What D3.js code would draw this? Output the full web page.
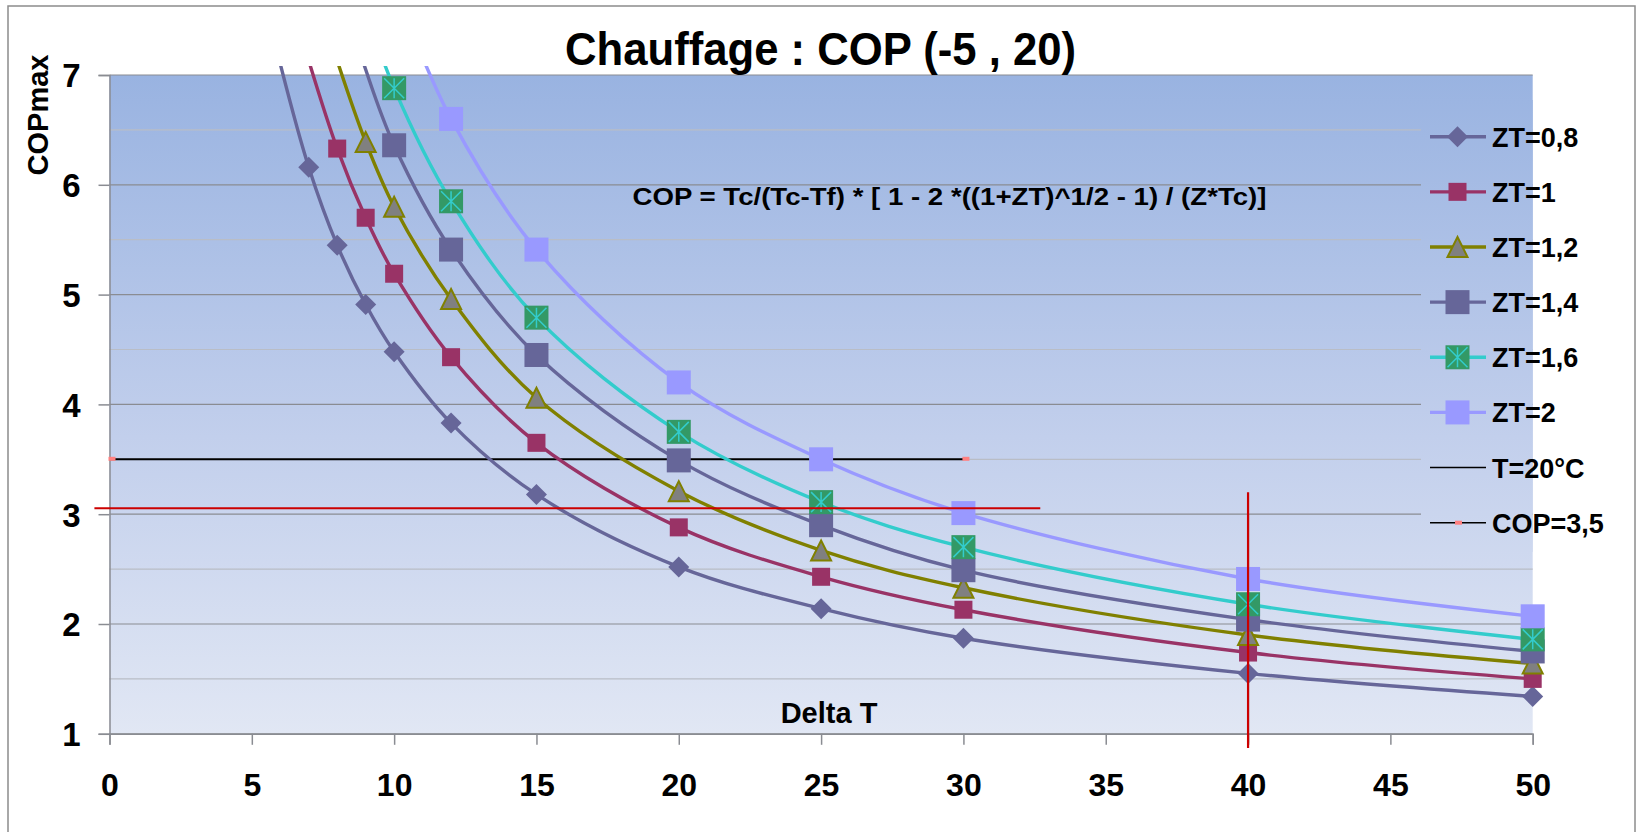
<!DOCTYPE html>
<html>
<head>
<meta charset="utf-8">
<script src="https://cdn.jsdelivr.net/npm/d3@7"></script>
<style>
  body { margin: 0; background: #fff; }
  text { font-family: "Liberation Sans", Arial, sans-serif; font-weight: bold; fill: #000; }
</style>
</head>
<body>
<svg id="chart"></svg>
<script>
// ---- data ----
const seriesNames = ["ZT=0,8", "ZT=1", "ZT=1,2", "ZT=1,4", "ZT=1,6", "ZT=2"];

const deltaT08 = [6, 7, 8, 9, 10, 12, 15, 20, 25, 30, 40, 50];
const cop08 = [7.1, 6.16, 5.45, 4.91, 4.48, 3.83, 3.18, 2.52, 2.14, 1.87, 1.55, 1.34];

const deltaT10 = [7, 8, 9, 10, 12, 15, 20, 25, 30, 40, 50];
const cop10 = [7.13, 6.33, 5.7, 5.19, 4.43, 3.65, 2.88, 2.43, 2.13, 1.74, 1.5];

const deltaT12 = [8, 9, 10, 12, 15, 20, 25, 30, 40, 50];
const cop12 = [7.13, 6.39, 5.8, 4.96, 4.06, 3.21, 2.67, 2.33, 1.9, 1.64];

const deltaT14 = [8, 9, 10, 12, 15, 20, 25, 30, 40, 50];
const cop14 = [7.9, 7.05, 6.36, 5.41, 4.45, 3.49, 2.9, 2.49, 2.04, 1.75];

const deltaT16 = [9, 10, 12, 15, 20, 25, 30, 40, 50];
const cop16 = [7.6, 6.88, 5.85, 4.79, 3.75, 3.11, 2.7, 2.18, 1.86];

const deltaT20 = [10, 12, 15, 20, 25, 30, 40, 50];
const cop20 = [7.8, 6.6, 5.41, 4.2, 3.5, 3.01, 2.41, 2.07];

// reference lines
const t20Name = "T=20°C";
const t20X = [40, 40];
const t20Y = [3, 0];
const cop35Name = "COP=3,5";
const cop35X = [0, 30];
const cop35Y = [3.5, 3.5];

// hand-drawn red lines
const redHX = [-0.53, 32.7];
const redHY = [3.054, 3.054];
const redVX = [40, 40];
const redVY = [3.2, 0.87];

const xTicks = [0, 5, 10, 15, 20, 25, 30, 35, 40, 45, 50];
const yTicks = [1, 2, 3, 4, 5, 6, 7];
const yMinorTicks = [1.5, 2.5, 3.5, 4.5, 5.5, 6.5];

const titleText = "Chauffage : COP (-5 , 20)";
const formulaText = "COP = Tc/(Tc-Tf) * [ 1 - 2 *((1+ZT)^1/2 - 1) / (Z*Tc)]";
const xAxisTitle = "Delta T";
const yAxisTitle = "COPmax";

// ---- styles ----
const styles = [
  { line: "#666699", marker: "diamond", size: 21, fill: "#666699" },
  { line: "#993366", marker: "square", size: 18, fill: "#993366" },
  { line: "#808000", marker: "triangle", size: 20, fill: "#808080", stroke: "#808000" },
  { line: "#666699", marker: "square", size: 24, fill: "#666699" },
  { line: "#33CCCC", marker: "star", size: 24, fill: "#339966", stroke: "#33CCCC" },
  { line: "#9999FF", marker: "square", size: 24, fill: "#9999FF" },
];

const seriesX = [deltaT08, deltaT10, deltaT12, deltaT14, deltaT16, deltaT20];
const seriesY = [cop08, cop10, cop12, cop14, cop16, cop20];
const series = seriesNames.map((name, i) => ({
  name,
  style: styles[i],
  points: seriesX[i].map((x, j) => ({ x, y: seriesY[i][j] })),
}));

const width = 1638,
  height = 832;
const margin = { left: 109.5, right: 1532.7, top: 75, bottom: 733.8 };

const svg = d3.select("#chart").attr("width", width).attr("height", height);

const x = d3.scaleLinear().domain([0, 50]).range([margin.left, margin.right]);
const y = d3.scaleLinear().domain([1, 7]).range([margin.bottom, margin.top]);

const defs = svg.append("defs");
const grad = defs
  .append("linearGradient")
  .attr("id", "bg")
  .attr("gradientUnits", "userSpaceOnUse")
  .attr("x1", 0)
  .attr("y1", margin.top)
  .attr("x2", 0)
  .attr("y2", margin.bottom);
grad.append("stop").attr("offset", "0%").attr("stop-color", "#99B3E1");
grad.append("stop").attr("offset", "55%").attr("stop-color", "#C2CFEC");
grad.append("stop").attr("offset", "100%").attr("stop-color", "#E1E7F4");

defs
  .append("clipPath")
  .attr("id", "clip")
  .append("rect")
  .attr("x", margin.left - 12)
  .attr("y", margin.top - 9)
  .attr("width", margin.right - margin.left + 24)
  .attr("height", margin.bottom - margin.top + 18);

// outer frame
svg
  .append("rect")
  .attr("x", 8)
  .attr("y", 6)
  .attr("width", 1627)
  .attr("height", 860)
  .attr("fill", "#fff")
  .attr("stroke", "#8c8c8c")
  .attr("stroke-width", 1.5);

// plot background
svg
  .append("rect")
  .attr("x", margin.left)
  .attr("y", margin.top)
  .attr("width", margin.right - margin.left)
  .attr("height", margin.bottom - margin.top)
  .attr("fill", "url(#bg)");

// gridlines
svg
  .append("g")
  .selectAll("line")
  .data(yMinorTicks)
  .join("line")
  .attr("x1", margin.left)
  .attr("x2", margin.right)
  .attr("y1", (d) => y(d))
  .attr("y2", (d) => y(d))
  .attr("stroke", "#B9BDC6")
  .attr("stroke-width", 1.2);
svg
  .append("g")
  .selectAll("line")
  .data(yTicks)
  .join("line")
  .attr("x1", margin.left)
  .attr("x2", margin.right)
  .attr("y1", (d) => y(d))
  .attr("y2", (d) => y(d))
  .attr("stroke", "#8A8C92")
  .attr("stroke-width", 1.2);

// legend background hides the gridlines behind it
svg
  .append("rect")
  .attr("x", 1421)
  .attr("y", 100)
  .attr("width", margin.right - 1421)
  .attr("height", 452)
  .attr("fill", "url(#bg)");

// axes
const yAxis = d3
  .axisLeft(y)
  .tickValues(yTicks)
  .tickSize(11)
  .tickPadding(18)
  .tickFormat(d3.format("d"));
const gy = svg.append("g").attr("transform", `translate(${margin.left},0)`).call(yAxis);
gy.select(".domain").attr("stroke", "#8A8C92").attr("stroke-width", 1.5);
gy.selectAll(".tick line").attr("stroke", "#8A8C92").attr("stroke-width", 1.5);
gy.selectAll(".tick text").attr("font-size", 33).attr("dy", "0.36em").attr("font-family", null);

const xAxis = d3
  .axisBottom(x)
  .tickValues(xTicks)
  .tickSize(11)
  .tickPadding(28)
  .tickFormat(d3.format("d"));
const gx = svg.append("g").attr("transform", `translate(0,${margin.bottom})`).call(xAxis);
gx.select(".domain").attr("stroke", "#8A8C92").attr("stroke-width", 1.5);
gx.selectAll(".tick line").attr("stroke", "#8A8C92").attr("stroke-width", 1.5);
gx.selectAll(".tick text").attr("font-size", 32).attr("font-family", null);

// titles
svg
  .append("text")
  .attr("x", 820.5)
  .attr("y", 65)
  .attr("text-anchor", "middle")
  .attr("font-size", 46)
  .attr("textLength", 511)
  .attr("lengthAdjust", "spacingAndGlyphs")
  .text(titleText);

svg
  .append("text")
  .attr("x", 949.5)
  .attr("y", 205)
  .attr("text-anchor", "middle")
  .attr("font-size", 24)
  .attr("textLength", 634)
  .attr("lengthAdjust", "spacingAndGlyphs")
  .text(formulaText);

svg
  .append("text")
  .attr("x", 829)
  .attr("y", 723)
  .attr("text-anchor", "middle")
  .attr("font-size", 29)
  .text(xAxisTitle);

svg
  .append("text")
  .attr("transform", "translate(48,115) rotate(-90)")
  .attr("text-anchor", "middle")
  .attr("font-size", 29)
  .text(yAxisTitle);

// ---- series ----
const lineGen = d3
  .line()
  .x((d) => x(d.x))
  .y((d) => y(d.y))
  .curve(d3.curveCatmullRom.alpha(0.5));

const plot = svg.append("g").attr("clip-path", "url(#clip)");

// reference line T=20°C
plot
  .append("path")
  .datum(t20X.map((v, i) => ({ x: v, y: t20Y[i] })))
  .attr("d", d3.line().x((d) => x(d.x)).y((d) => y(d.y)))
  .attr("stroke", "#222")
  .attr("stroke-width", 2)
  .attr("fill", "none");

// reference line COP=3,5
const cop35Pts = cop35X.map((v, i) => ({ x: v, y: cop35Y[i] }));
plot
  .append("path")
  .datum(cop35Pts)
  .attr("d", d3.line().x((d) => x(d.x)).y((d) => y(d.y)))
  .attr("stroke", "#000")
  .attr("stroke-width", 2)
  .attr("fill", "none");
plot
  .selectAll(".cop35-mark")
  .data(cop35Pts)
  .join("rect")
  .attr("class", "cop35-mark")
  .attr("x", (d) => x(d.x) - 1)
  .attr("y", (d) => y(d.y) - 2.5)
  .attr("width", 7)
  .attr("height", 4)
  .attr("fill", "#FF8080");

series.forEach((s) => {
  plot
    .append("path")
    .datum(s.points)
    .attr("d", lineGen)
    .attr("fill", "none")
    .attr("stroke", s.style.line)
    .attr("stroke-width", 3.4);
});

function drawMarker(g, st, cx, cy) {
  const h = st.size / 2;
  if (st.marker === "diamond") {
    g.append("path")
      .attr("d", `M${cx},${cy - h}L${cx + h},${cy}L${cx},${cy + h}L${cx - h},${cy}Z`)
      .attr("fill", st.fill);
  } else if (st.marker === "square") {
    g.append("rect")
      .attr("x", cx - h)
      .attr("y", cy - h)
      .attr("width", st.size)
      .attr("height", st.size)
      .attr("fill", st.fill);
  } else if (st.marker === "triangle") {
    g.append("path")
      .attr("d", `M${cx},${cy - h}L${cx + h},${cy + h}L${cx - h},${cy + h}Z`)
      .attr("fill", st.fill)
      .attr("stroke", st.stroke)
      .attr("stroke-width", 2);
  } else if (st.marker === "star") {
    g.append("rect")
      .attr("x", cx - h)
      .attr("y", cy - h)
      .attr("width", st.size)
      .attr("height", st.size)
      .attr("fill", st.fill);
    const a = h - 2;
    g.append("path")
      .attr("d", `M${cx},${cy - a}L${cx},${cy + a}M${cx - a},${cy - a}L${cx + a},${cy + a}M${cx + a},${cy - a}L${cx - a},${cy + a}`)
      .attr("stroke", st.stroke)
      .attr("stroke-width", 1.5);
  }
}

series.forEach((s) => {
  const g = svg.append("g");
  s.points
    .filter((p) => p.y <= 7)
    .forEach((p) => drawMarker(g, s.style, x(p.x), y(p.y)));
});

// hand-drawn red lines
[[redHX, redHY], [redVX, redVY]].forEach(([xs, ys]) => {
  svg
    .append("path")
    .datum(xs.map((v, i) => ({ x: v, y: ys[i] })))
    .attr("d", d3.line().x((d) => x(d.x)).y((d) => y(d.y)))
    .attr("stroke", "#CC0000")
    .attr("stroke-width", 2.2)
    .attr("fill", "none");
});

// ---- legend ----
const legendRows = [
  ...series.map((s) => ({ name: s.name, style: s.style })),
  { name: t20Name, style: { line: "#000", thin: true } },
  { name: cop35Name, style: { line: "#000", thin: true, dash: true } },
];
const legend = svg.append("g");
const rowY = d3.scalePoint().domain(legendRows.map((r) => r.name)).range([136.7, 522.7]);
legendRows.forEach((r) => {
  const cy = rowY(r.name);
  legend
    .append("line")
    .attr("x1", 1430)
    .attr("x2", 1486)
    .attr("y1", cy)
    .attr("y2", cy)
    .attr("stroke", r.style.line)
    .attr("stroke-width", r.style.thin ? 1.5 : 3.4);
  if (r.style.marker) drawMarker(legend, r.style, 1457.5, cy);
  if (r.style.dash)
    legend
      .append("rect")
      .attr("x", 1455)
      .attr("y", cy - 2)
      .attr("width", 7)
      .attr("height", 4)
      .attr("fill", "#FF8080");
  legend
    .append("text")
    .attr("x", 1492)
    .attr("y", cy + 10)
    .attr("font-size", 27)
    .text(r.name);
});
</script>
</body>
</html>
